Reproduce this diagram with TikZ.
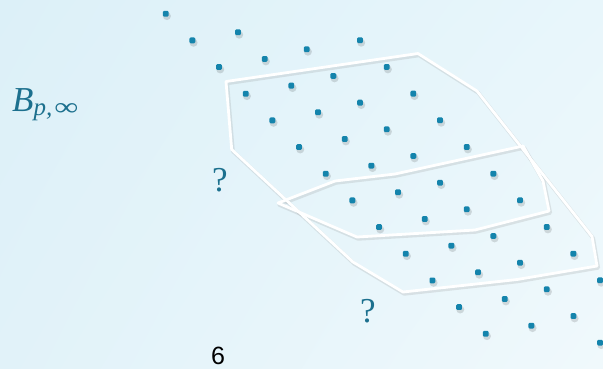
\documentclass[tikz,border=0pt]{standalone}
\usepackage{fix-cm}
\usepackage{fontspec}
\newfontfamily\pagenumfont{Liberation Sans}
\newfontfamily\labelfont{Liberation Serif}
\usetikzlibrary{calc,shadings}
\definecolor{bgtl}{RGB}{220,240,248}
\definecolor{bgtr}{RGB}{232,246,251}
\definecolor{bgbl}{RGB}{225,242,249}
\definecolor{bgbr}{RGB}{240,249,252}
\definecolor{dotblue}{RGB}{20,132,172}
\definecolor{labteal}{RGB}{28,112,142}

\begin{document}
\begin{tikzpicture}[
  x=1pt, y=-1pt,
  latpt/.style={rectangle, rounded corners=1.2pt, minimum size=5.8pt, inner sep=0pt, fill=dotblue},
  rim/.style={draw=white, line width=2.8pt, line join=round},
  rimshade/.style={draw=black!45, opacity=0.2, line width=3.8pt, line join=round, shift={(1.2,1.8)}},
  lbl/.style={text=labteal, inner sep=0pt, font=\labelfont}
]
  \useasboundingbox (0,0) rectangle (603,368);
  \shade[upper left=bgtl, upper right=bgtr, lower left=bgbl, lower right=bgbr] (0,0) rectangle (603,368);

  % lattice points, one column at a time
  \foreach \col/\sx/\sy/\n in {a/165.7/13.7/12, b/238/32.3/11, c/306.7/49.3/11, d/360/40.3/9} {
    \foreach \i in {0,...,\n} {
      \fill[black, opacity=0.13] ({\sx+26.67*\i+1.2},{\sy+26.67*\i+2.4}) circle (4);
      \node[latpt] (\col\i) at ({\sx+26.67*\i},{\sy+26.67*\i}) {};
    }
  }

  % the two regions
  \draw[rimshade] (226,81.5) -- (418,53.5) -- (477,91) -- (592,236.5) -- (597,266) -- (517,279.5)
    -- (403,292) -- (353,262) -- (231.7,149.5) -- cycle;
  \draw[rimshade] (278,203) -- (335,181) -- (395,174) -- (523,146) -- (543,181) -- (549,211)
    -- (475,230) -- (357,237) -- cycle;
  \draw[rim] (226,81.5) -- (418,53.5) -- (477,91) -- (592,236.5) -- (597,266) -- (517,279.5)
    -- (403,292) -- (353,262) -- (231.7,149.5) -- cycle;
  \draw[rim] (278,203) -- (335,181) -- (395,174) -- (523,146) -- (543,181) -- (549,211)
    -- (475,230) -- (357,237) -- cycle;

  \node[lbl, anchor=base west] (bpinf) at (12,111)
    {\fontsize{35}{38}\selectfont\itshape B\raisebox{-4.5pt}{\fontsize{25}{28}\selectfont p,\hspace{2pt}\upshape\scalebox{1.35}[1]{∞}}};
  \node[lbl, font=\labelfont\fontsize{35}{38}\selectfont] (qup) at (220,180.3) {?};
  \node[lbl, font=\labelfont\fontsize{35}{38}\selectfont] (qdown) at (368,311.5) {?};
  \node[inner sep=0pt, font=\pagenumfont\fontsize{25}{30}\selectfont] (pnum) at (218,355.5) {6};
\end{tikzpicture}
\end{document}
